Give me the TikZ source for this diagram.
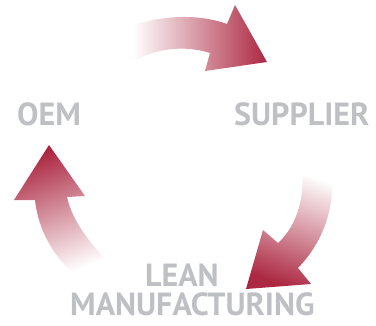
\documentclass[tikz,border=0pt]{standalone}
\usepackage{fontspec}
\setmainfont{PT Sans}
\usetikzlibrary{positioning}

\definecolor{arrowred}{RGB}{172,40,66}
\definecolor{labelgray}{RGB}{190,192,195}

\tikzset{
    cyclelabel/.style={inner sep=0pt, anchor=base west, text=labelgray,
        font=\fontsize{32}{32}\selectfont\bfseries},
    cyclearrow/.style={top color=arrowred, bottom color=white, draw=none}
}

\begin{document}
\begin{tikzpicture}[x=1pt, y=-1pt]
    \useasboundingbox (0,0) rectangle (376,325);

    % labels
    \node[cyclelabel] (oem) at (17,125) {OEM};
    \node[cyclelabel] (supplier) at (234,125) {SUPPLIER};
    \node[cyclelabel] (lean) at (145,286) {LEAN};
    \node[cyclelabel] (manuf) at (70,315) {MANUFACTURING};

    % OEM -> supplier
    \shade[cyclearrow, shading angle=-90] (133,25) .. controls (165,15) and (200,14) .. (227,24)
        -- (235,5) -- (267,62) -- (205,71) -- (210,53)
        .. controls (185,45) and (155,48) .. (133,62) -- cycle;

    % supplier -> lean manufacturing
    \shade[cyclearrow, shading angle=160] (302,167) .. controls (305,195) and (298,225) .. (278,243)
        -- (263,230) -- (246,289) -- (311,284) -- (298,268)
        .. controls (325,240) and (335,205) .. (332,170) -- cycle;

    % lean manufacturing -> OEM
    \shade[cyclearrow, shading angle=21] (110,262) .. controls (90,245) and (72,220) .. (67,197)
        -- (85,196) -- (49,145) -- (14,200) -- (35,200)
        .. controls (38,230) and (55,260) .. (78,277) -- cycle;

\end{tikzpicture}
\end{document}
